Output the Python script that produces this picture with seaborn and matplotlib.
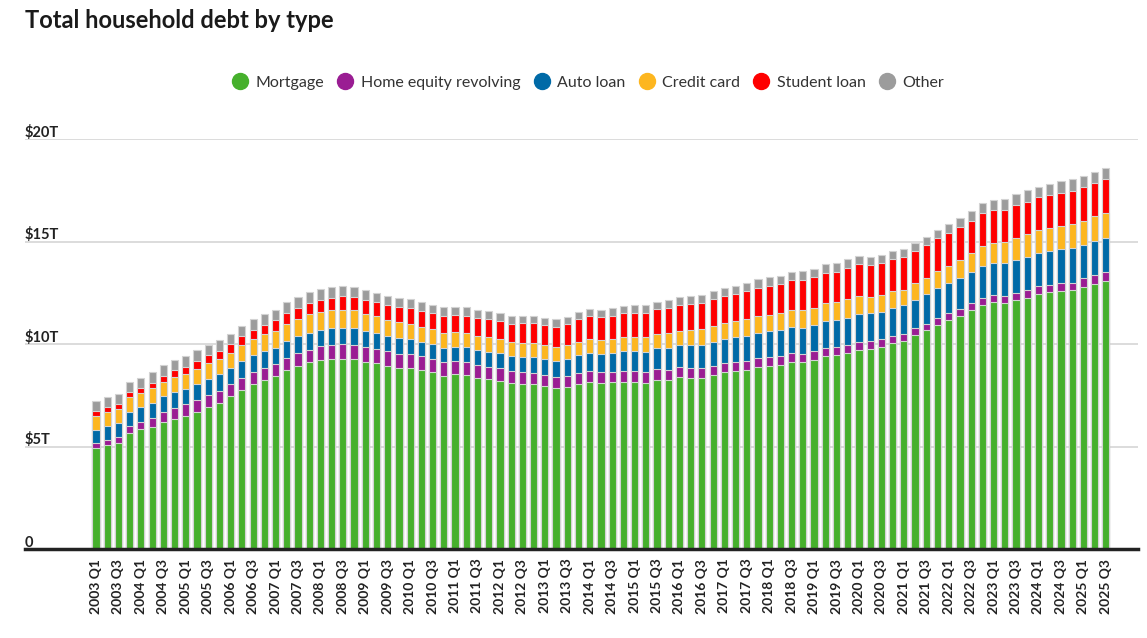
import numpy as np
import pandas as pd
import matplotlib
matplotlib.use("Agg")
import matplotlib.pyplot as plt
from matplotlib.lines import Line2D
import seaborn as sns

years = list(range(2003, 2026))
quarters = [f"{y} Q{q}" for y in years for q in range(1, 5)][:91]

mortgage = [4.94, 5.08, 5.18, 5.66, 5.84, 5.97, 6.21, 6.36, 6.51, 6.70, 6.91, 7.10,
            7.44, 7.76, 8.04, 8.23, 8.42, 8.71, 8.93, 9.10, 9.23, 9.27, 9.29, 9.26,
            9.14, 9.06, 8.94, 8.84, 8.83, 8.73, 8.61, 8.45, 8.52, 8.48, 8.36, 8.28,
            8.21, 8.08, 8.03, 8.03, 7.93, 7.84, 7.90, 8.05, 8.17, 8.10, 8.13, 8.17,
            8.17, 8.12, 8.26, 8.25, 8.37, 8.36, 8.35, 8.48, 8.63, 8.69, 8.74, 8.88,
            8.94, 9.00, 9.14, 9.12, 9.24, 9.41, 9.44, 9.56, 9.71, 9.78, 9.86, 10.04,
            10.16, 10.44, 10.67, 10.93, 11.18, 11.39, 11.67, 11.92, 12.04, 12.01, 12.14, 12.25,
            12.44, 12.52, 12.59, 12.61, 12.80, 12.94, 13.07]
home_equity = [0.24, 0.26, 0.29, 0.32, 0.35, 0.42, 0.47, 0.53, 0.54, 0.57, 0.58, 0.59,
               0.60, 0.60, 0.60, 0.60, 0.61, 0.61, 0.62, 0.63, 0.65, 0.67, 0.69, 0.71,
               0.71, 0.71, 0.70, 0.69, 0.68, 0.67, 0.66, 0.66, 0.64, 0.63, 0.62, 0.62,
               0.60, 0.59, 0.58, 0.56, 0.55, 0.54, 0.54, 0.53, 0.53, 0.53, 0.52, 0.51,
               0.51, 0.51, 0.50, 0.49, 0.49, 0.48, 0.48, 0.47, 0.46, 0.45, 0.45, 0.44,
               0.44, 0.43, 0.42, 0.41, 0.40, 0.40, 0.39, 0.39, 0.39, 0.37, 0.36, 0.35,
               0.35, 0.33, 0.32, 0.32, 0.32, 0.32, 0.32, 0.34, 0.34, 0.34, 0.35, 0.36,
               0.37, 0.38, 0.38, 0.39, 0.40, 0.41, 0.42]
auto_loan = [0.64, 0.64, 0.68, 0.70, 0.72, 0.74, 0.77, 0.77, 0.77, 0.80, 0.82, 0.83,
             0.79, 0.80, 0.81, 0.82, 0.79, 0.81, 0.82, 0.82, 0.81, 0.82, 0.81, 0.79,
             0.78, 0.76, 0.74, 0.74, 0.71, 0.71, 0.71, 0.71, 0.71, 0.72, 0.73, 0.73,
             0.74, 0.75, 0.77, 0.78, 0.79, 0.81, 0.84, 0.86, 0.88, 0.90, 0.93, 0.96,
             0.97, 1.00, 1.03, 1.06, 1.07, 1.10, 1.14, 1.16, 1.17, 1.19, 1.21, 1.22,
             1.23, 1.24, 1.27, 1.27, 1.28, 1.30, 1.32, 1.33, 1.35, 1.34, 1.36, 1.37,
             1.37, 1.40, 1.44, 1.46, 1.47, 1.50, 1.52, 1.55, 1.56, 1.58, 1.60, 1.61,
             1.62, 1.63, 1.64, 1.66, 1.64, 1.66, 1.66]
credit_card = [0.69, 0.69, 0.69, 0.72, 0.70, 0.70, 0.71, 0.74, 0.72, 0.73, 0.74, 0.77,
               0.74, 0.77, 0.78, 0.82, 0.82, 0.84, 0.86, 0.90, 0.87, 0.88, 0.89, 0.88,
               0.84, 0.82, 0.80, 0.78, 0.76, 0.74, 0.73, 0.73, 0.70, 0.70, 0.69, 0.70,
               0.68, 0.67, 0.67, 0.68, 0.66, 0.67, 0.67, 0.68, 0.66, 0.67, 0.68, 0.70,
               0.68, 0.70, 0.71, 0.73, 0.71, 0.73, 0.75, 0.78, 0.76, 0.78, 0.81, 0.83,
               0.82, 0.83, 0.84, 0.87, 0.85, 0.87, 0.88, 0.93, 0.89, 0.82, 0.81, 0.82,
               0.77, 0.79, 0.80, 0.86, 0.84, 0.89, 0.93, 0.99, 0.99, 1.03, 1.08, 1.13,
               1.12, 1.14, 1.17, 1.21, 1.18, 1.21, 1.23]
student_loan = [0.24, 0.24, 0.25, 0.25, 0.26, 0.29, 0.30, 0.32, 0.36, 0.39, 0.39, 0.39,
                0.43, 0.44, 0.46, 0.48, 0.51, 0.53, 0.55, 0.55, 0.58, 0.61, 0.64, 0.64,
                0.66, 0.68, 0.72, 0.74, 0.76, 0.76, 0.78, 0.81, 0.84, 0.85, 0.87, 0.87,
                0.90, 0.91, 0.96, 0.97, 0.99, 0.99, 1.03, 1.08, 1.11, 1.12, 1.13, 1.16,
                1.19, 1.19, 1.20, 1.23, 1.26, 1.26, 1.28, 1.31, 1.34, 1.34, 1.36, 1.38,
                1.41, 1.41, 1.44, 1.46, 1.49, 1.48, 1.50, 1.51, 1.54, 1.54, 1.55, 1.56,
                1.58, 1.57, 1.58, 1.58, 1.59, 1.59, 1.57, 1.60, 1.60, 1.57, 1.60, 1.60,
                1.60, 1.59, 1.61, 1.61, 1.63, 1.64, 1.65]
other = [0.48, 0.49, 0.48, 0.49, 0.49, 0.51, 0.50, 0.51, 0.50, 0.51, 0.52, 0.52,
         0.51, 0.52, 0.52, 0.53, 0.51, 0.53, 0.52, 0.53, 0.52, 0.51, 0.51, 0.51,
         0.48, 0.48, 0.46, 0.46, 0.44, 0.44, 0.43, 0.43, 0.41, 0.41, 0.40, 0.39,
         0.37, 0.37, 0.36, 0.36, 0.35, 0.35, 0.35, 0.35, 0.34, 0.35, 0.36, 0.36,
         0.36, 0.37, 0.37, 0.38, 0.38, 0.39, 0.39, 0.40, 0.39, 0.40, 0.40, 0.41,
         0.41, 0.41, 0.41, 0.42, 0.41, 0.42, 0.43, 0.43, 0.42, 0.41, 0.41, 0.42,
         0.41, 0.42, 0.43, 0.43, 0.45, 0.47, 0.48, 0.50, 0.51, 0.52, 0.53, 0.54,
         0.53, 0.54, 0.55, 0.56, 0.55, 0.55, 0.56]

series_names = ["Mortgage", "Home equity revolving", "Auto loan", "Credit card", "Student loan", "Other"]
series_values = [mortgage, home_equity, auto_loan, credit_card, student_loan, other]
colors = ["#46b02c", "#9a1d93", "#006aa7", "#fdb61f", "#fe0000", "#9c9c9c"]

y_ticks = [0, 5, 10, 15, 20]
y_tick_labels = ["0", "$5T", "$10T", "$15T", "$20T"]

df = pd.DataFrame({n: v for n, v in zip(series_names, series_values)})
df["quarter"] = quarters
cum = df[series_names].cumsum(axis=1)

sns.set_theme(style="white")
plt.rcParams["font.family"] = ["Lato", "DejaVu Sans"]

W, H = 1147, 638
fig = plt.figure(figsize=(W / 100, H / 100), dpi=100)
ax = fig.add_axes([25 / W, 1 - 549 / H, (1138 - 25) / W, (549 - 139) / H])

for name, col in reversed(list(zip(series_names, colors))):
    sns.barplot(x=df["quarter"], y=cum[name], color=col, width=0.64,
                edgecolor="#d3d3d3", linewidth=0.8, ax=ax, saturation=1, zorder=3)

ax.set_xlim(-6.33, 92.87)
ax.set_ylim(0, 20)
ax.set_xlabel("")
ax.set_ylabel("")
for s in ["top", "right", "left"]:
    ax.spines[s].set_visible(False)
ax.spines["bottom"].set_color("#222222")
ax.spines["bottom"].set_linewidth(2.5)
ax.spines["bottom"].set_zorder(5)

for t in y_ticks[1:]:
    ax.axhline(t, color="#d6d6d6", linewidth=1.2, zorder=1)
ax.set_yticks([])
for t, lab in zip(y_ticks, y_tick_labels):
    ax.text(0, t + 0.12, lab, transform=ax.get_yaxis_transform(), ha="left", va="baseline",
            fontsize=10.5, fontweight="bold", color="#222222")

tick_pos = list(range(0, 91, 2))
ax.set_xticks(tick_pos)
ax.set_xticklabels([quarters[i] for i in tick_pos], rotation=90, fontsize=10,
                   fontweight="bold", color="#222222")
ax.tick_params(axis="x", length=0, pad=7)

fig.text(25 / W, 1 - 21 / H, "Total household debt by type", fontsize=17, fontweight="bold",
         color="#1a1a1a", ha="left", va="center")

handles = [Line2D([0], [0], marker="o", linestyle="", markersize=11.5, markerfacecolor=c,
                  markeredgecolor=c) for c in colors]
fig.legend(handles, series_names, loc="center", bbox_to_anchor=(588 / W, 1 - 83 / H), ncol=6,
           frameon=False, fontsize=11.5, handlelength=1.0, handletextpad=0.45,
           columnspacing=0.85, labelcolor="#333333")

fig.savefig("out.png", dpi=100)
